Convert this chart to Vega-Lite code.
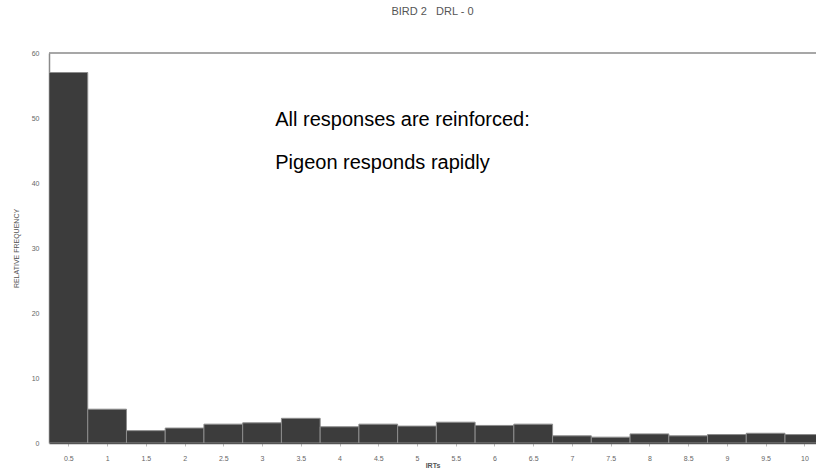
{
  "$schema": "https://vega.github.io/schema/vega-lite/v6.json",
  "width": 767,
  "height": 390,
  "autosize": {"type": "none"},
  "padding": {"left": 49, "top": 53, "right": 0, "bottom": 30},
  "background": "white",
  "config": {
    "view": {"stroke": null},
    "font": "Liberation Sans"
  },
  "title": {
    "text": "BIRD 2\u00a0\u00a0\u00a0DRL - 0",
    "fontSize": 11,
    "fontWeight": "normal",
    "color": "#555555",
    "anchor": "middle",
    "offset": 32,
    "limit": 0
  },
  "layer": [
    {
      "data": {
        "values": [
          {"irt": 0.5, "lo": 0.25, "hi": 0.75, "freq": 57.0},
          {"irt": 1.0, "lo": 0.75, "hi": 1.25, "freq": 5.2},
          {"irt": 1.5, "lo": 1.25, "hi": 1.75, "freq": 1.9},
          {"irt": 2.0, "lo": 1.75, "hi": 2.25, "freq": 2.3},
          {"irt": 2.5, "lo": 2.25, "hi": 2.75, "freq": 2.9},
          {"irt": 3.0, "lo": 2.75, "hi": 3.25, "freq": 3.1},
          {"irt": 3.5, "lo": 3.25, "hi": 3.75, "freq": 3.8},
          {"irt": 4.0, "lo": 3.75, "hi": 4.25, "freq": 2.5},
          {"irt": 4.5, "lo": 4.25, "hi": 4.75, "freq": 2.9},
          {"irt": 5.0, "lo": 4.75, "hi": 5.25, "freq": 2.6},
          {"irt": 5.5, "lo": 5.25, "hi": 5.75, "freq": 3.2},
          {"irt": 6.0, "lo": 5.75, "hi": 6.25, "freq": 2.7},
          {"irt": 6.5, "lo": 6.25, "hi": 6.75, "freq": 2.9},
          {"irt": 7.0, "lo": 6.75, "hi": 7.25, "freq": 1.1},
          {"irt": 7.5, "lo": 7.25, "hi": 7.75, "freq": 0.9},
          {"irt": 8.0, "lo": 7.75, "hi": 8.25, "freq": 1.4},
          {"irt": 8.5, "lo": 8.25, "hi": 8.75, "freq": 1.1},
          {"irt": 9.0, "lo": 8.75, "hi": 9.25, "freq": 1.3},
          {"irt": 9.5, "lo": 9.25, "hi": 9.75, "freq": 1.5},
          {"irt": 10.0, "lo": 9.75, "hi": 10.25, "freq": 1.3}
        ]
      },
      "mark": {"type": "bar", "fill": "#3c3c3c", "stroke": "#8c8c8c", "strokeWidth": 1, "clip": true},
      "encoding": {
        "x": {
          "field": "lo",
          "type": "quantitative",
          "scale": {"domain": [0.25, 10.15], "nice": false, "zero": false},
          "axis": {
            "title": "IRTs",
            "titleFontSize": 7,
            "titleFontWeight": "bold",
            "titleColor": "#555555",
            "titlePadding": 0,
            "values": [0.5, 1, 1.5, 2, 2.5, 3, 3.5, 4, 4.5, 5, 5.5, 6, 6.5, 7, 7.5, 8, 8.5, 9, 9.5, 10],
            "format": ".1~f",
            "labelFontSize": 7,
            "labelColor": "#666666",
            "labelPadding": 8,
            "labelFlush": false,
            "tickSize": 3,
            "tickColor": "#bbbbbb",
            "domainColor": "#555555",
            "domainWidth": 1.5,
            "grid": false
          }
        },
        "x2": {"field": "hi"},
        "y": {
          "field": "freq",
          "type": "quantitative",
          "scale": {"domain": [0, 60], "nice": false},
          "axis": {
            "title": "RELATIVE FREQUENCY",
            "titleFontSize": 7,
            "titleFontWeight": "normal",
            "titleColor": "#555555",
            "titlePadding": 12,
            "values": [0, 10, 20, 30, 40, 50, 60],
            "labelFontSize": 7,
            "labelColor": "#666666",
            "labelPadding": 10,
            "ticks": false,
            "domain": true,
            "domainColor": "#8a8a8a",
            "domainWidth": 1.5,
            "grid": false
          }
        },
        "y2": {"datum": 0}
      }
    },
    {
      "data": {"values": [{"top": 60}]},
      "mark": {"type": "rule", "color": "#8a8a8a", "strokeWidth": 1.5},
      "encoding": {
        "y": {"field": "top", "type": "quantitative"}
      }
    },
    {
      "data": {
        "values": [
          {"tx": 3.17, "ty": 48.8, "label": "All responses are reinforced:"},
          {"tx": 3.17, "ty": 42.2, "label": "Pigeon responds rapidly"}
        ]
      },
      "mark": {"type": "text", "align": "left", "baseline": "alphabetic", "fontSize": 20, "font": "Liberation Sans", "color": "#000000"},
      "encoding": {
        "x": {"field": "tx", "type": "quantitative"},
        "y": {"field": "ty", "type": "quantitative"},
        "text": {"field": "label"}
      }
    }
  ]
}
